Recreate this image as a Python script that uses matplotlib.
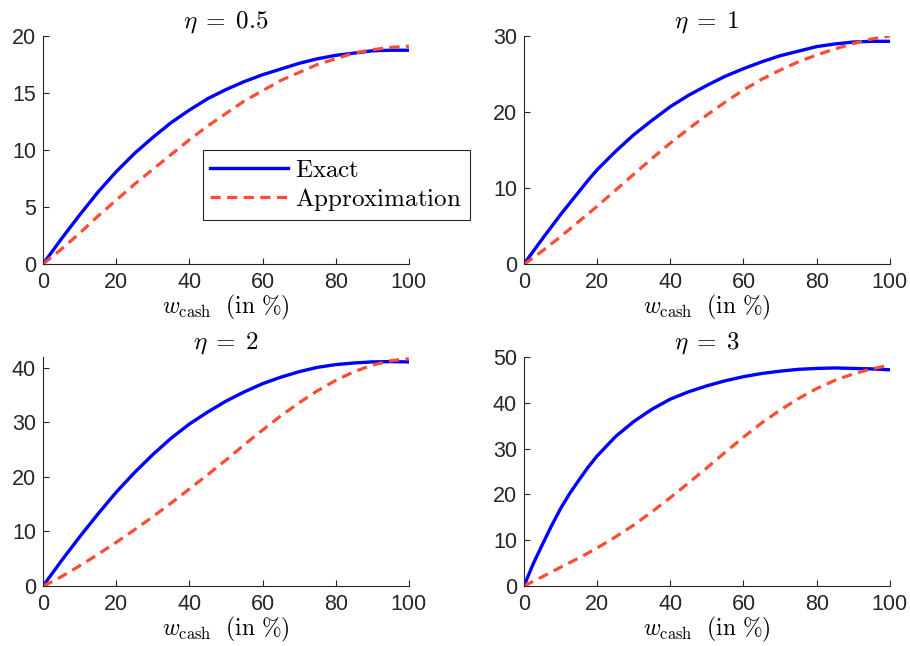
import numpy as np
import matplotlib
matplotlib.use("Agg")
import matplotlib.pyplot as plt

plt.rcParams['mathtext.fontset'] = 'cm'
plt.rcParams['font.family'] = ['Liberation Sans', 'DejaVu Sans']

# share of cash, in %
w = [0, 2.5, 5, 7.5, 10, 12.5, 15, 17.5, 20, 25, 30, 35, 40, 45, 50, 55, 60,
     65, 70, 75, 80, 85, 90, 95, 100]

etas = ['0.5', '1', '2', '3']

exact_05 = [0, 1.1, 2.2, 3.25, 4.3, 5.3, 6.3, 7.2, 8.1, 9.7, 11.1, 12.4, 13.5,
            14.5, 15.3, 16.0, 16.6, 17.1, 17.6, 18.0, 18.3, 18.5, 18.7, 18.75, 18.75]
approx_05 = [0, 0.65, 1.3, 2.0, 2.7, 3.45, 4.2, 4.9, 5.6, 7.0, 8.3, 9.6, 10.9,
             12.1, 13.2, 14.3, 15.2, 16.1, 16.8, 17.5, 18.0, 18.5, 18.8, 19.0, 19.1]

exact_1 = [0, 1.65, 3.3, 4.9, 6.5, 8.0, 9.5, 11.0, 12.4, 14.8, 17.0, 18.9, 20.7,
           22.2, 23.5, 24.7, 25.7, 26.6, 27.4, 28.0, 28.6, 28.95, 29.2, 29.3, 29.3]
approx_1 = [0, 0.8, 1.7, 2.65, 3.6, 4.6, 5.6, 6.6, 7.6, 9.7, 11.8, 13.9, 15.9,
            17.8, 19.6, 21.3, 22.9, 24.3, 25.5, 26.6, 27.5, 28.3, 29.0, 29.6, 30.0]

exact_2 = [0, 2.3, 4.6, 6.8, 9.0, 11.1, 13.2, 15.2, 17.2, 20.8, 24.1, 27.1, 29.7,
           31.9, 33.9, 35.6, 37.1, 38.3, 39.3, 40.1, 40.6, 40.9, 41.1, 41.15, 41.1]
approx_2 = [0, 0.8, 1.7, 2.7, 3.7, 4.75, 5.8, 6.9, 8.0, 10.3, 12.7, 15.2, 17.8,
            20.4, 23.1, 25.9, 28.6, 31.2, 33.6, 35.8, 37.7, 39.3, 40.5, 41.3, 41.7]

exact_3 = [0, 4.8, 9.0, 13.1, 16.9, 20.2, 23.1, 25.9, 28.4, 32.6, 35.9, 38.6, 40.8,
           42.4, 43.7, 44.8, 45.7, 46.4, 46.9, 47.3, 47.5, 47.6, 47.5, 47.4, 47.2]
approx_3 = [0, 1.0, 2.0, 3.05, 4.1, 5.1, 6.1, 7.2, 8.3, 10.7, 13.3, 16.2, 19.3,
            22.5, 25.8, 29.2, 32.5, 35.6, 38.4, 40.9, 43.1, 44.9, 46.3, 47.4, 48.2]

exact = [exact_05, exact_1, exact_2, exact_3]
approx = [approx_05, approx_1, approx_2, approx_3]
yticks = [[0, 5, 10, 15, 20], [0, 10, 20, 30], [0, 10, 20, 30, 40], [0, 10, 20, 30, 40, 50]]
ylims = [20, 30, 42, 50]

grey = '#262626'
fig = plt.figure(figsize=(9.1, 6.46), dpi=100)

lefts = [0.0473, 0.5758, 0.0473, 0.5758]
bottoms = [0.5913, 0.5913, 0.0929, 0.0929]
heights = [0.353, 0.353, 0.3545, 0.3545]

for i in range(4):
    ax = fig.add_axes([lefts[i], bottoms[i], 0.402, heights[i]])
    ax.plot(w, exact[i], color='#0000ff', lw=2.4, label=r'$\mathrm{Exact}$')
    ax.plot(w, approx[i], color='#ff4d33', lw=2.3, linestyle=(0, (3.2, 2.0)),
            label=r'$\mathrm{Approximation}$')
    ax.set_xlim(0, 100)
    ax.set_ylim(0, ylims[i])
    ax.set_xticks([0, 20, 40, 60, 80, 100])
    ax.set_yticks(yticks[i])
    ax.spines['top'].set_visible(False)
    ax.spines['right'].set_visible(False)
    for s in ['left', 'bottom']:
        ax.spines[s].set_color(grey)
        ax.spines[s].set_linewidth(0.8)
    ax.tick_params(direction='in', length=4, width=0.8, colors=grey,
                   labelsize=15.5)
    ax.tick_params(axis='x', pad=6)
    ax.tick_params(axis='y', pad=5)
    ax.set_title(r'$\eta\;=\;%s$' % etas[i], fontsize=18, pad=6)
    ax.set_xlabel(r'$w_{\mathrm{cash}}\ \ (\mathrm{in}\ \%)$', fontsize=17, labelpad=0)
    if i == 0:
        leg = ax.legend(loc='lower left', bbox_to_anchor=(0.437, 0.193),
                        fontsize=18, handlelength=3.1,
                        fancybox=False, framealpha=1, borderaxespad=0,
                        handletextpad=0.3, labelspacing=0.15, borderpad=0.3)
        leg.get_frame().set_edgecolor(grey)
        leg.get_frame().set_linewidth(0.8)

plt.savefig('out.png', dpi=100)
